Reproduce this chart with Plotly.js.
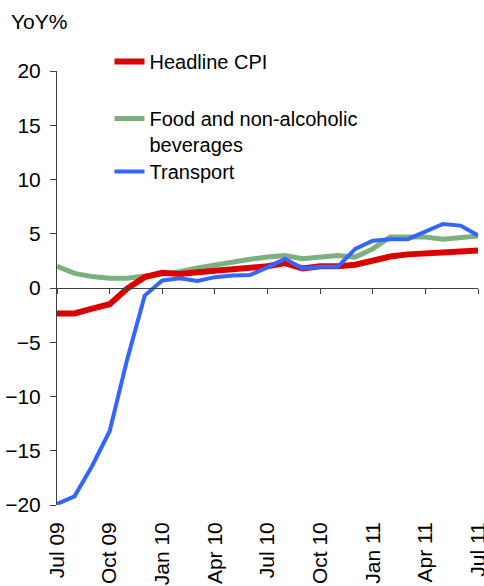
<!DOCTYPE html>
<html>
<head>
<meta charset="utf-8">
<script src="https://cdn.plot.ly/plotly-3.0.1.min.js"></script>
<style>html,body{margin:0;padding:0;background:#fff;}#chart{width:484px;height:586px;}</style>
</head>
<body>
<div id="chart"></div>
<script>
// Monthly, Jul 09 .. Jul 11 (index 0..24)
const months = [0,1,2,3,4,5,6,7,8,9,10,11,12,13,14,15,16,17,18,19,20,21,22,23,24];
const tickPositions = [0,3,6,9,12,15,18,21,24];
const tickLabels = ["Jul 09","Oct 09","Jan 10","Apr 10","Jul 10","Oct 10","Jan 11","Apr 11","Jul 11"];
const yTicks = [-20,-15,-10,-5,0,5,10,15,20];

const headlineCPI = [-2.35,-2.35,-1.9,-1.5,-0.05,1.0,1.4,1.3,1.45,1.6,1.7,1.8,2.0,2.3,1.8,2.0,2.0,2.15,2.5,2.9,3.1,3.2,3.3,3.45,3.45];
const foodBev     = [2.0,1.35,1.05,0.9,0.9,1.1,1.3,1.5,1.85,2.15,2.45,2.65,2.85,3.0,2.7,2.85,3.0,2.85,3.6,4.7,4.7,4.7,4.5,4.65,4.8];
const transport   = [-19.9,-19.2,-16.4,-13.2,-6.6,-0.7,0.7,0.9,0.65,1.0,1.15,1.2,1.9,2.7,1.8,1.95,1.95,3.6,4.35,4.5,4.5,5.2,5.9,5.75,4.85];

const names = ["Headline CPI","Food and non-alcoholic<br>beverages","Transport"];
const colors = ["#DD0000","#7DB07F","#3366FF"];

const FONT = "Liberation Sans, Arial, sans-serif";

const traces = [
  {x: months, y: foodBev, name: names[1], type: "scatter", mode: "lines",
   line: {color: colors[1], width: 5}, legend: "legend2", xaxis: "x", yaxis: "y"},
  {x: months, y: headlineCPI, name: names[0], type: "scatter", mode: "lines",
   line: {color: colors[0], width: 6}, legend: "legend", xaxis: "x2", yaxis: "y"},
  {x: months, y: transport, name: names[2], type: "scatter", mode: "lines",
   line: {color: colors[2], width: 4}, legend: "legend3", xaxis: "x2", yaxis: "y"}
];

function legendAt(yPaper) {
  return {
    x: 0.1247, y: yPaper, xanchor: "left", yanchor: "top",
    bgcolor: "rgba(0,0,0,0)", borderwidth: 0, valign: "top",
    font: {family: FONT, size: 20, color: "#000000"}
  };
}

const layout = {
  width: 484, height: 586,
  margin: {l: 57, r: 6, t: 71, b: 81, autoexpand: false},
  paper_bgcolor: "#ffffff", plot_bgcolor: "#ffffff",
  font: {family: FONT, size: 20, color: "#000000"},
  showlegend: true,
  legend: legendAt(1.0668),
  legend2: legendAt(0.9355),
  legend3: legendAt(0.8134),
  xaxis: {
    range: [0, 24], tickmode: "array", tickvals: tickPositions, ticktext: tickLabels,
    tickangle: -90, showline: false, ticks: "", showgrid: false, zeroline: false,
    ticklabelstandoff: 12, ticklabeloverflow: "allow", automargin: false,
    tickfont: {family: FONT, size: 21, color: "#000000"}
  },
  xaxis2: {
    overlaying: "x", anchor: "free", position: 0.5, side: "bottom",
    range: [0, 24], tickmode: "array", tickvals: tickPositions,
    showticklabels: false, showline: true, linecolor: "#404040", linewidth: 1,
    ticks: "outside", ticklen: 5, tickcolor: "#404040", tickwidth: 1,
    showgrid: false, zeroline: false, automargin: false
  },
  yaxis: {
    range: [-20, 20], tickmode: "array", tickvals: yTicks,
    showline: true, linecolor: "#404040", linewidth: 1,
    ticks: "outside", ticklen: 6, tickcolor: "#404040", tickwidth: 1,
    showgrid: false, zeroline: false, automargin: false,
    ticklabelstandoff: 5,
    tickfont: {family: FONT, size: 21, color: "#000000"}
  },
  annotations: [{
    text: "YoY%", xref: "paper", yref: "paper", x: -0.115, y: 1.115,
    xanchor: "left", yanchor: "middle", showarrow: false,
    font: {family: FONT, size: 21, color: "#000000"}
  }]
};

Plotly.newPlot("chart", traces, layout, {displayModeBar: false, staticPlot: true});
</script>
</body>
</html>
